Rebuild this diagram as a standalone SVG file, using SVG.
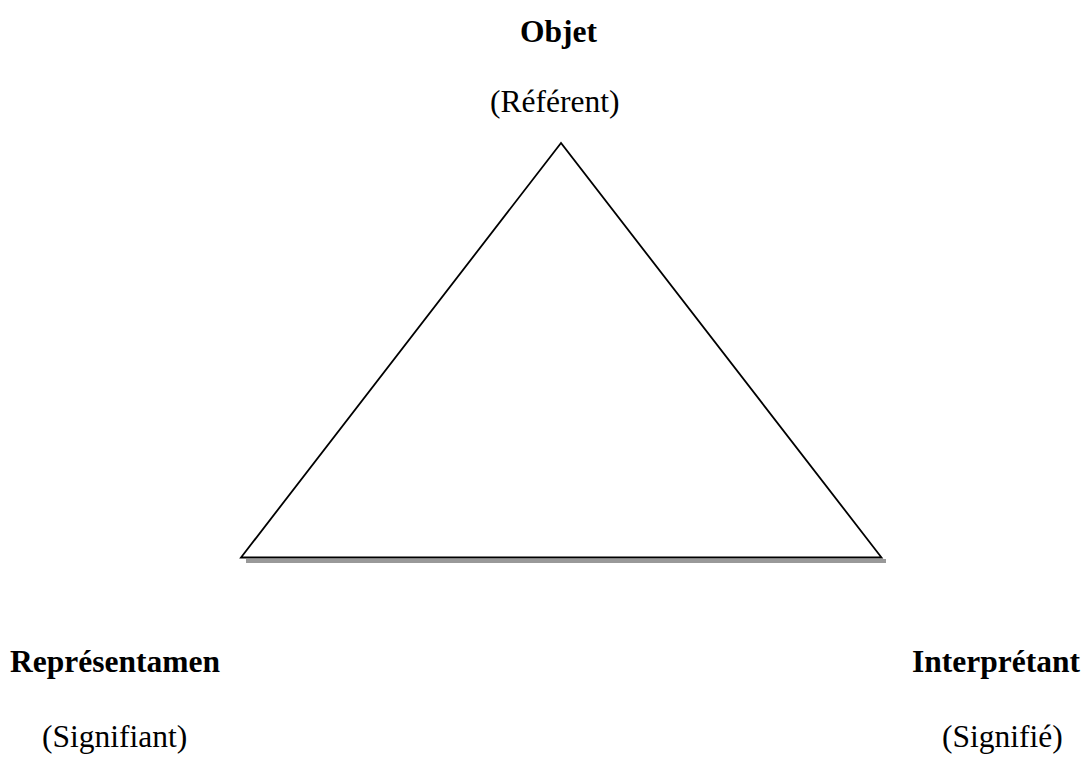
<svg xmlns="http://www.w3.org/2000/svg" width="1084" height="758" viewBox="0 0 1084 758">
<style>
.t{font-family:"Liberation Serif","Times New Roman",serif;font-size:31.5px;fill:#000}
.b{font-weight:bold}
.edge{stroke:#000;stroke-width:1.8;fill:none;stroke-linecap:round;stroke-linejoin:miter}
.shadow{stroke:#999;stroke-width:4;fill:none}
</style>
<rect width="1084" height="758" fill="#fff"/>
<g id="connectors">
<line class="shadow" x1="246" y1="561" x2="886" y2="561"/>
<polygon class="edge" points="561,143 241,557.5 881.5,557.5"/>
</g>
<g id="objet">
<text class="t b" x="520" y="42">Objet</text>
<text class="t" x="490" y="112">(Référent)</text>
</g>
<g id="representamen">
<text class="t b" x="10" y="672">Représentamen</text>
<text class="t" x="42" y="747">(Signifiant)</text>
</g>
<g id="interpretant">
<text class="t b" x="912" y="672">Interprétant</text>
<text class="t" x="942" y="747">(Signifié)</text>
</g>
</svg>
